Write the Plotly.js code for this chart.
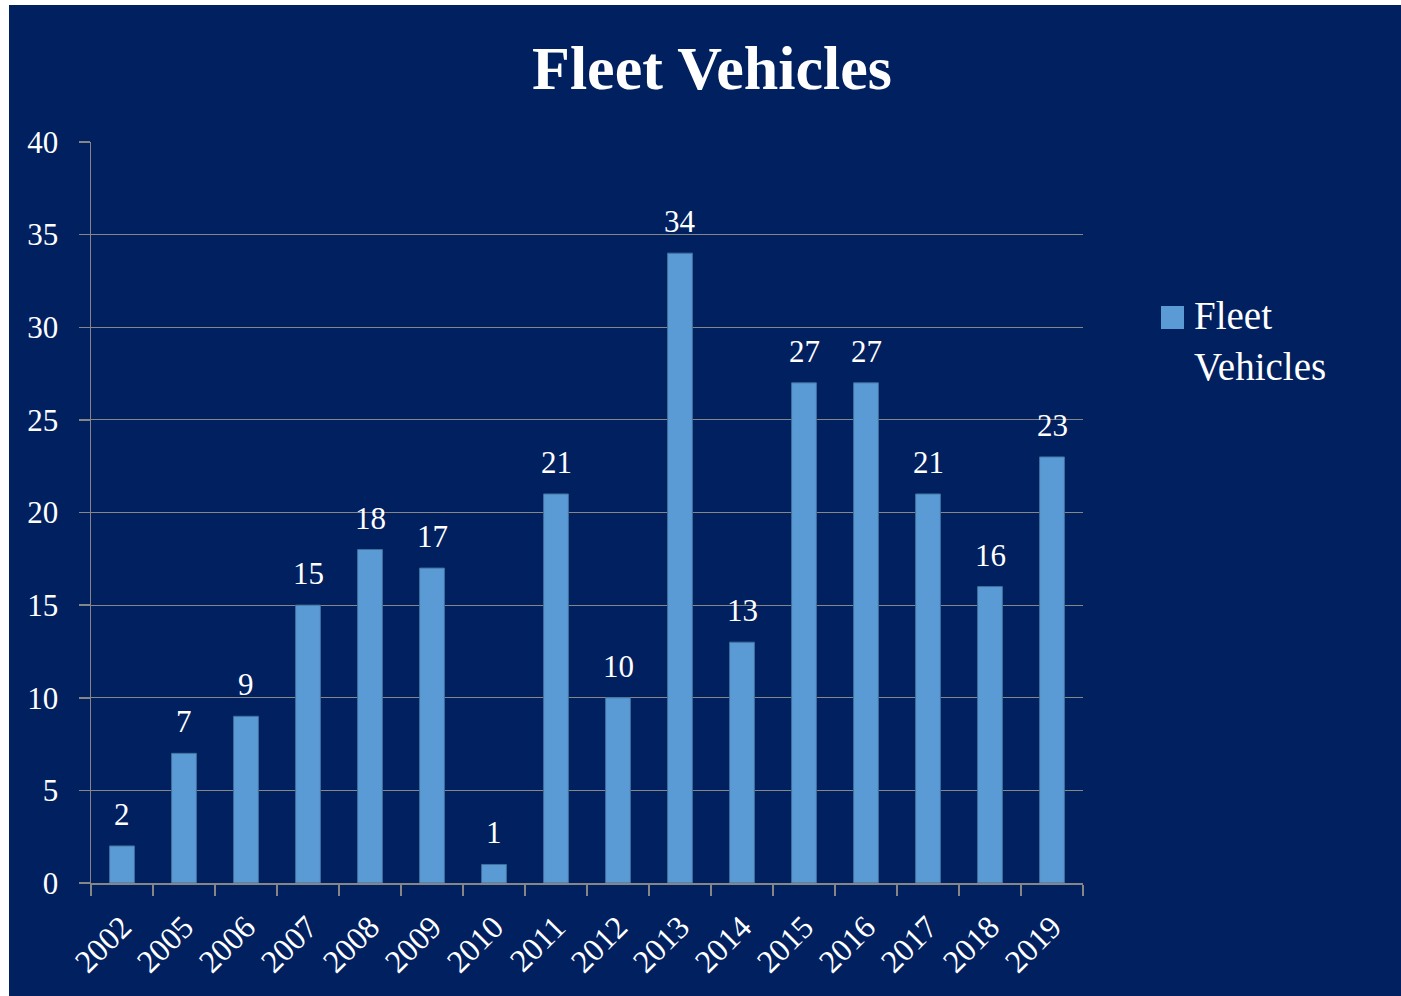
<!DOCTYPE html>
<html>
<head>
<meta charset="utf-8">
<script src="https://cdn.plot.ly/plotly-3.0.1.min.js"></script>
<style>
html,body{margin:0;padding:0;background:#ffffff;width:1401px;height:996px;overflow:hidden;}
#chart{position:absolute;left:9px;top:5px;width:1392px;height:991px;}
</style>
</head>
<body>
<div id="chart"></div>
<script>
const years = ["2002","2005","2006","2007","2008","2009","2010","2011","2012","2013","2014","2015","2016","2017","2018","2019"];
const fleetVehicles = [2,7,9,15,18,17,1,21,10,34,13,27,27,21,16,23];
const seriesName = "Fleet<br>Vehicles";
const titleText = "Fleet Vehicles";

const serif = "'Palatino Linotype','Book Antiqua',Palatino,'Liberation Serif',serif";
const navy = "#002060";
const barColor = "#5b9bd5";
const gridColor = "#868686";

const trace = {
  type: "bar",
  x: years,
  y: fleetVehicles,
  name: seriesName,
  marker: {color: barColor, line: {color: "#41719c", width: 1}},
  showlegend: false,
  hoverinfo: "skip"
};

// data labels placed through the category axis (by category index) and the value axis
const labelAnnotations = years.map((yr, i) => ({
  x: i, y: fleetVehicles[i], xref: "x", yref: "y",
  text: String(fleetVehicles[i]),
  showarrow: false, yanchor: "bottom", xanchor: "center",
  yshift: 12,
  font: {family: serif, size: 31, color: "#ffffff"}
}));

// legend (drawn as a swatch + text so the swatch can match the reference size)
const legendAnnotation = {
  xref: "paper", yref: "paper", x: 1.1099, y: 0.7314,
  xanchor: "left", yanchor: "middle", align: "left",
  text: seriesName, showarrow: false,
  font: {family: serif, size: 39, color: "#ffffff"}
};
const legendSwatch = {
  type: "rect", xref: "paper", yref: "paper",
  x0: 1.0786, x1: 1.1018, y0: 0.7476, y1: 0.7787,
  fillcolor: barColor, line: {width: 0}
};

const layout = {
  width: 1392,
  height: 991,
  paper_bgcolor: navy,
  plot_bgcolor: navy,
  margin: {l: 82, r: 318, t: 137, b: 113},
  bargap: 0.6,
  title: {
    text: "<b>" + titleText + "</b>",
    font: {family: serif, size: 62, color: "#ffffff"},
    x: 0.505, xanchor: "center",
    y: 1 - 62/991, yanchor: "middle", yref: "container"
  },
  xaxis: {
    type: "category",
    range: [-0.5, years.length - 0.5],
    tickson: "boundaries",
    ticks: "outside",
    ticklen: 11,
    tickcolor: gridColor,
    tickwidth: 1.5,
    showline: true,
    linecolor: gridColor,
    linewidth: 1.5,
    showgrid: false,
    tickangle: -45,
    ticklabelstandoff: 11,
    tickfont: {family: serif, size: 32, color: "#ffffff"},
    automargin: false
  },
  yaxis: {
    range: [0, 40],
    dtick: 5,
    ticks: "outside",
    ticklen: 11,
    tickcolor: gridColor,
    tickwidth: 1.5,
    showline: true,
    linecolor: gridColor,
    linewidth: 1.5,
    showgrid: true,
    gridcolor: gridColor,
    gridwidth: 1,
    zeroline: false,
    ticklabelstandoff: 14,
    tickfont: {family: serif, size: 31, color: "#ffffff"},
    automargin: false
  },
  showlegend: false,
  annotations: labelAnnotations.concat([legendAnnotation]),
  shapes: [legendSwatch]
};

Plotly.newPlot("chart", [trace], layout, {displayModeBar: false, staticPlot: true});
</script>
</body>
</html>
